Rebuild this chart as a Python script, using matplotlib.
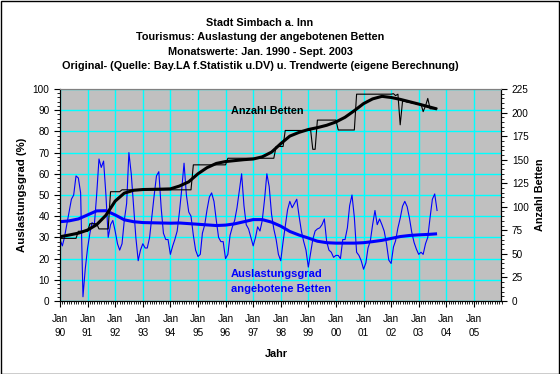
import numpy as np
import pandas as pd
import matplotlib
matplotlib.use('Agg')
import matplotlib.pyplot as plt
import matplotlib.dates as mdates
from matplotlib.patches import Rectangle
from matplotlib.ticker import MultipleLocator, FixedLocator

plt.rcParams['font.family'] = ['Liberation Sans', 'DejaVu Sans']

# Monatswerte Jan 1990 - Sept 2003
months = pd.date_range('1990-01-01', '2003-09-01', freq='MS')

auslastung = [
    29, 26, 30, 36, 42, 48, 50, 59, 58, 51, 2, 15,      # 1990
    25, 32, 37, 36, 50, 67, 63, 66, 50, 30, 36, 38,     # 1991
    33, 27, 24, 27, 38, 46, 70, 60, 45, 30, 19, 24,     # 1992
    27, 25, 25, 30, 40, 50, 59, 61, 44, 32, 29, 29,     # 1993
    22, 26, 29, 33, 42, 53, 65, 50, 42, 40, 31, 24,     # 1994
    21, 22, 32, 36, 43, 49, 51, 47, 38, 30, 28, 28,     # 1995
    20, 22, 31, 35, 38, 44, 52, 60, 45, 36, 34, 30,     # 1996
    26, 30, 35, 33, 38, 48, 60, 54, 41, 34, 29, 22,     # 1997
    19, 28, 35, 43, 47, 44, 46, 48, 40, 33, 28, 24,     # 1998
    16, 23, 29, 33, 34, 34.5, 36, 38.7, 28, 24, 23, 20.6,  # 1999
    21.5, 21.5, 20, 29, 29, 34.5, 45, 50, 39.5, 23, 21.5, 19,  # 2000
    15, 18, 25, 28.4, 36, 42.7, 36, 38.7, 36, 33, 27, 19.3,    # 2001
    17.7, 25.5, 28.4, 34.5, 39, 44.7, 47, 44.5, 39, 32.4, 27.6, 24.5,  # 2002
    22, 23, 22, 27, 30, 39.5, 48, 50.5, 42.7,           # 2003
]

betten = [
    66.5, 66.5, 66.5, 66.5, 66.5, 66.5, 66.5, 66.5, 74, 74, 74, 74,          # 1990
    74, 82, 82, 82, 82, 76.5, 76.5, 76.5, 76.5, 76.5, 116, 116,              # 1991
    116, 116, 116, 118, 118, 118, 118, 118, 118, 118, 118, 118,              # 1992
    118, 118, 118, 118, 118, 118, 118, 118, 118, 118, 118, 118,              # 1993
    118, 118, 118, 118, 118, 118, 118, 118, 118, 118, 144.5, 144.5,          # 1994
    144.5, 144.5, 144.5, 144.5, 144.5, 144.5, 144.5, 144.5, 144.5, 144.5, 144.5, 144.5,  # 1995
    144.5, 151.5, 151.5, 151.5, 151.5, 151.5, 151.5, 151.5, 151.5, 151.5, 151.5, 151.5,  # 1996
    151.5, 151.5, 151.5, 151.5, 151.5, 151.5, 151.5, 151.5, 151.5, 151.5, 164, 164,      # 1997
    164, 164, 181, 181, 181, 181, 181, 181, 181, 181, 181, 181,              # 1998
    181, 181, 161, 161, 192, 192, 192, 192, 192, 192, 192, 192,              # 1999
    192, 181.5, 181.5, 181.5, 181.5, 181.5, 181.5, 181.5, 181.5, 219.5, 219.5, 219.5,    # 2000
    219.5, 219.5, 219.5, 219.5, 219.5, 219.5, 219.5, 219.5, 219.5, 219.5, 219.5, 219.5,  # 2001
    219.5, 220, 218, 219.5, 187, 212, 212, 211, 211, 210, 210, 209,          # 2002
    209, 209, 201, 207, 215, 204, 204, 204, 204,                             # 2003
]

trend_months = pd.date_range('1990-01-01', periods=42, freq='4MS')

auslastung_trend = [
    37.4, 37.8, 38.7, 40.6, 42.5, 42.6, 40.6, 38.3, 37.4, 37.0, 36.9, 36.8,
    36.7, 36.8, 36.5, 36.2, 35.9, 35.6, 35.8, 36.4, 37.4, 38.4, 38.4, 37.2,
    35.3, 32.8, 31.1, 29.7, 28.2, 27.5, 27.3, 27.3, 27.3, 27.5, 28.0, 28.6,
    29.5, 30.4, 30.9, 31.2, 31.4, 31.7,
]

betten_trend = [
    68.2, 70, 72, 75.3, 81, 91, 106, 114.5, 117.5, 118.3, 118.5, 118.7,
    119, 122, 126.5, 135, 141.5, 146, 148, 149, 150, 150.7, 153, 158,
    167, 175, 179, 182, 184, 186.5, 190, 195, 202, 209.5, 214.5, 217.2,
    216, 214, 211.5, 209, 206.4, 203.8,
]

# beschriftete Jahre auf der x-Achse (Achse reicht bis Jan 2006)
tick_years = pd.date_range('1990-01-01', '2005-01-01', freq='YS')

title_lines = [
    'Stadt Simbach a. Inn',
    'Tourismus: Auslastung der angebotenen Betten',
    'Monatswerte: Jan. 1990 - Sept. 2003',
    'Original- (Quelle: Bay.LA f.Statistik u.DV) u. Trendwerte (eigene Berechnung)',
]

W, H = 560, 374
BLUE = '#0000FF'
FS = 7.2


def fx(x):
    return x / W


def fy(y):
    return 1 - y / H


fig = plt.figure(figsize=(W / 100, H / 100), dpi=100, facecolor='white')
ax = fig.add_axes([fx(60), fy(301), (501.5 - 60) / W, (301 - 89) / H])
ax.set_facecolor('#C0C0C0')

ax.plot(months, auslastung, color=BLUE, lw=0.8)
ax.plot(trend_months, auslastung_trend, color=BLUE, lw=2.2, solid_capstyle='butt')

ax.set_xlim(pd.Timestamp('1990-01-01'), pd.Timestamp('2006-01-01'))
ax.set_ylim(0, 100)
ax.yaxis.set_major_locator(MultipleLocator(10))
ax.yaxis.set_minor_locator(MultipleLocator(2))
ax.xaxis.set_major_locator(FixedLocator(mdates.date2num(tick_years)))
ax.xaxis.set_minor_locator(mdates.MonthLocator())
ax.xaxis.set_major_formatter(mdates.DateFormatter('Jan\n%y'))
ax.grid(True, which='major', color='#00FFFF', lw=1)
ax.set_axisbelow(True)

ax.tick_params(which='major', length=4, width=0.8, labelsize=FS, color='black')
ax.tick_params(which='minor', length=2, width=0.6, color='black')
ax.tick_params(axis='x', pad=5)
for lbl in ax.get_xticklabels():
    lbl.set_linespacing(1.55)

ax2 = ax.twinx()
ax2.plot(months, betten, color='black', lw=0.8)
ax2.plot(trend_months, betten_trend, color='black', lw=2.2, solid_capstyle='butt')
ax2.set_ylim(0, 225)
ax2.yaxis.set_major_locator(MultipleLocator(25))
ax2.yaxis.set_minor_locator(MultipleLocator(5))
ax2.tick_params(which='major', length=4, width=0.8, labelsize=FS, color='black')
ax2.tick_params(which='minor', length=2, width=0.6, color='black')

for a in (ax, ax2):
    a.spines['top'].set_color('#808080')
    a.spines['left'].set_linewidth(0.8)
    a.spines['bottom'].set_linewidth(0.8)
    a.spines['right'].set_linewidth(0.8)

# Titel
for y, line in zip([22.7, 37.3, 51.7, 66.0], title_lines):
    fig.text(fx(260), fy(y), line, ha='center', va='center',
             fontsize=7.8, fontweight='bold')

# Achsentitel
fig.text(fx(22), fy(195), 'Auslastungsgrad (%)', rotation=90, ha='center',
         va='center', fontsize=8.2, fontweight='bold')
fig.text(fx(540), fy(195), 'Anzahl Betten', rotation=90, ha='center',
         va='center', fontsize=7.8, fontweight='bold')
fig.text(fx(276), fy(354), 'Jahr', ha='center', va='center',
         fontsize=7.8, fontweight='bold')

# Beschriftungen im Diagramm
fig.text(fx(231), fy(111), 'Anzahl Betten', ha='left', va='center',
         fontsize=7.8, fontweight='bold', color='black')
fig.text(fx(231), fy(274), 'Auslastungsgrad', ha='left', va='center',
         fontsize=8, fontweight='bold', color=BLUE)
fig.text(fx(231), fy(289.5), 'angebotene Betten', ha='left', va='center',
         fontsize=8, fontweight='bold', color=BLUE)

fig.patches.append(Rectangle((0.5 / W, 0.5 / H), (W - 1.5) / W, (H - 1.5) / H,
                             transform=fig.transFigure, fill=False,
                             ec='black', lw=1))

fig.savefig('out.png', dpi=100)
